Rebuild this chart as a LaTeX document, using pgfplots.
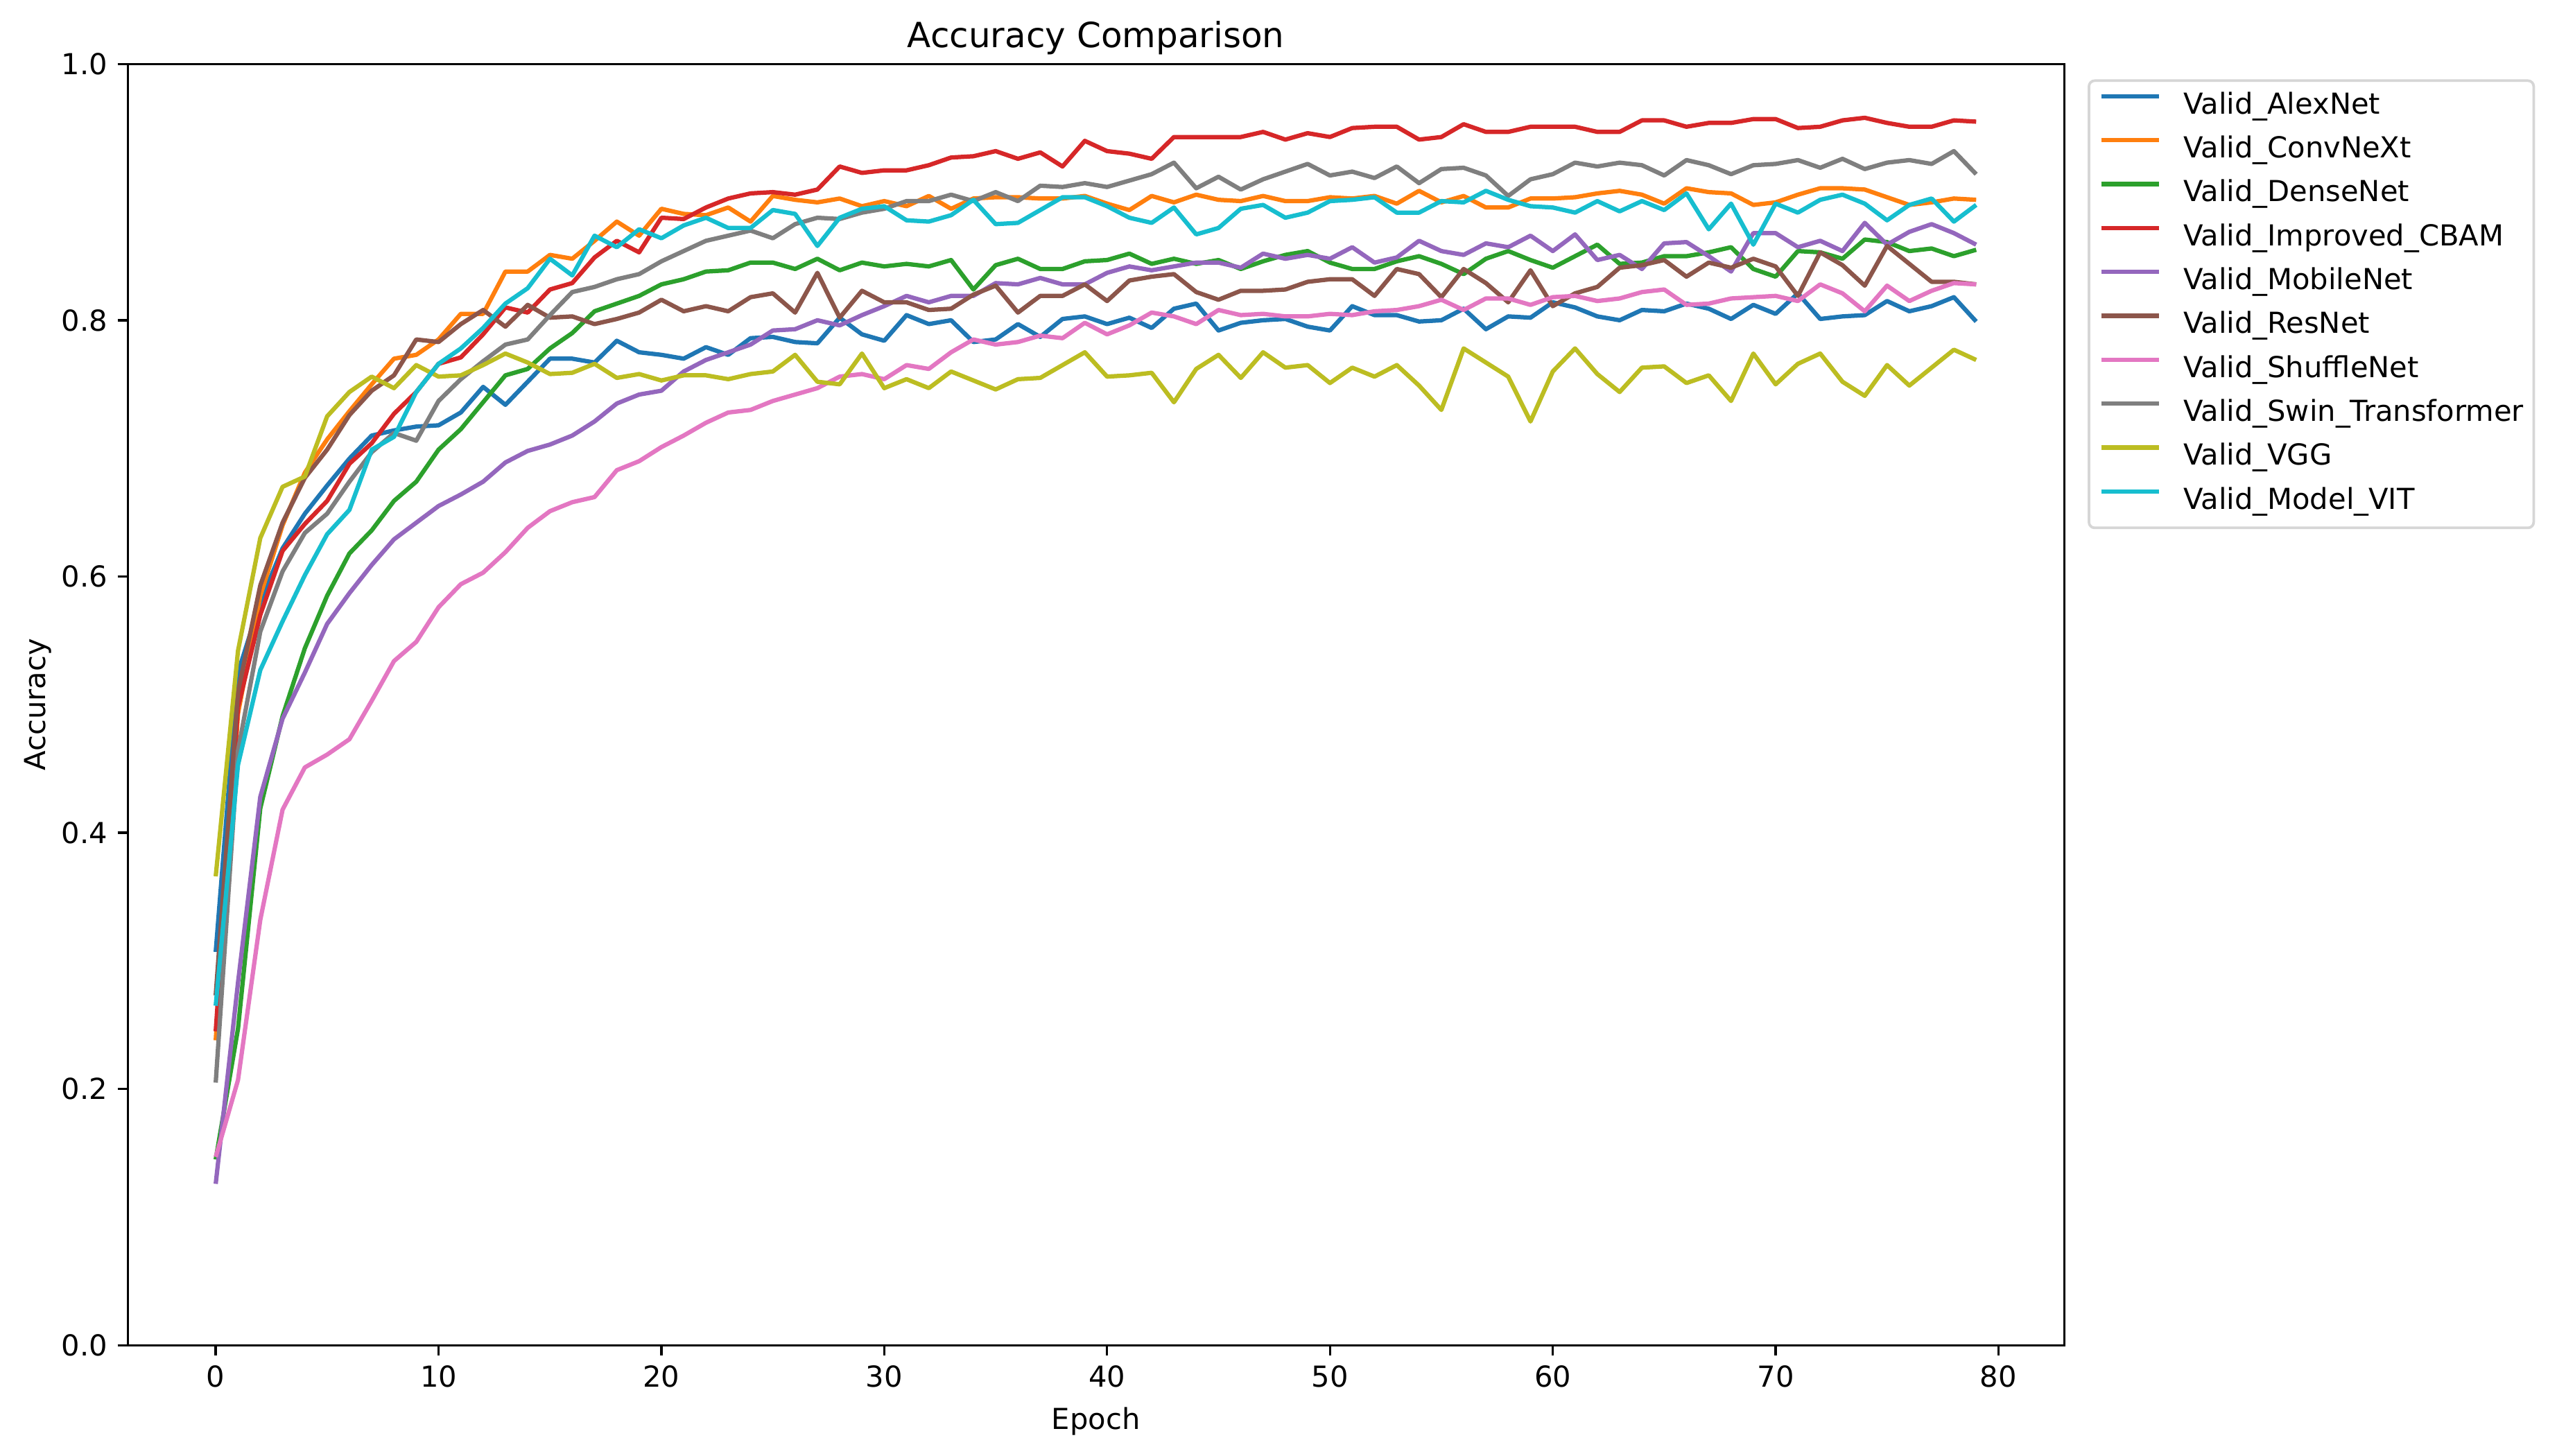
\documentclass[border=0pt]{standalone}
\usepackage{fontspec}
\setmainfont{DejaVu Sans}
\usepackage{pgfplots}
\usepackage{pgfplotstable}
\pgfplotsset{compat=1.18}
\definecolor{c0}{RGB}{31,119,180}
\definecolor{c1}{RGB}{255,127,14}
\definecolor{c2}{RGB}{44,160,44}
\definecolor{c3}{RGB}{214,39,40}
\definecolor{c4}{RGB}{148,103,189}
\definecolor{c5}{RGB}{140,86,75}
\definecolor{c6}{RGB}{227,119,194}
\definecolor{c7}{RGB}{127,127,127}
\definecolor{c8}{RGB}{188,189,34}
\definecolor{c9}{RGB}{23,190,207}
\definecolor{legframe}{RGB}{214,214,214}

\pgfplotstableread{
e A C D I M R S W V T
0 0.307 0.238 0.145 0.245 0.126 0.273 0.147 0.205 0.366 0.265
1 0.525 0.493 0.247 0.498 0.283 0.510 0.207 0.464 0.542 0.453
2 0.580 0.585 0.419 0.570 0.428 0.593 0.332 0.557 0.630 0.527
3 0.622 0.640 0.491 0.620 0.489 0.642 0.418 0.604 0.670 0.565
4 0.649 0.681 0.544 0.641 0.525 0.677 0.451 0.634 0.678 0.601
5 0.671 0.707 0.585 0.659 0.563 0.699 0.461 0.649 0.725 0.633
6 0.692 0.729 0.618 0.688 0.587 0.726 0.473 0.674 0.744 0.652
7 0.710 0.750 0.636 0.704 0.609 0.745 0.503 0.697 0.756 0.699
8 0.714 0.770 0.659 0.727 0.629 0.757 0.534 0.712 0.747 0.709
9 0.717 0.773 0.674 0.744 0.642 0.785 0.549 0.706 0.765 0.744
10 0.718 0.785 0.699 0.766 0.655 0.783 0.576 0.737 0.756 0.766
11 0.728 0.805 0.715 0.771 0.664 0.797 0.594 0.754 0.757 0.778
12 0.748 0.805 0.736 0.789 0.674 0.808 0.603 0.768 0.765 0.794
13 0.734 0.838 0.757 0.810 0.689 0.795 0.619 0.781 0.774 0.813
14 0.752 0.838 0.762 0.806 0.698 0.812 0.638 0.785 0.767 0.825
15 0.770 0.851 0.778 0.824 0.703 0.802 0.651 0.804 0.758 0.848
16 0.770 0.848 0.790 0.829 0.710 0.803 0.658 0.822 0.759 0.835
17 0.767 0.862 0.807 0.849 0.721 0.797 0.662 0.826 0.766 0.866
18 0.784 0.877 0.813 0.862 0.735 0.801 0.683 0.832 0.755 0.857
19 0.775 0.866 0.819 0.853 0.742 0.806 0.690 0.836 0.758 0.871
20 0.773 0.887 0.828 0.880 0.745 0.816 0.701 0.846 0.753 0.864
21 0.770 0.883 0.832 0.879 0.760 0.807 0.710 0.854 0.757 0.874
22 0.779 0.882 0.838 0.888 0.769 0.811 0.720 0.862 0.757 0.880
23 0.773 0.888 0.839 0.895 0.775 0.807 0.728 0.866 0.754 0.872
24 0.786 0.877 0.845 0.899 0.781 0.818 0.730 0.870 0.758 0.872
25 0.787 0.897 0.845 0.900 0.792 0.821 0.737 0.864 0.760 0.886
26 0.783 0.894 0.840 0.898 0.793 0.806 0.742 0.875 0.773 0.883
27 0.782 0.892 0.848 0.902 0.800 0.837 0.747 0.880 0.752 0.858
28 0.802 0.895 0.839 0.920 0.796 0.802 0.756 0.879 0.750 0.880
29 0.789 0.889 0.845 0.915 0.804 0.823 0.758 0.884 0.774 0.887
30 0.784 0.893 0.842 0.917 0.811 0.814 0.754 0.887 0.747 0.889
31 0.804 0.889 0.844 0.917 0.819 0.814 0.765 0.893 0.754 0.878
32 0.797 0.897 0.842 0.921 0.814 0.808 0.762 0.893 0.747 0.877
33 0.800 0.887 0.847 0.927 0.819 0.809 0.775 0.898 0.760 0.882
34 0.783 0.895 0.824 0.928 0.819 0.820 0.785 0.893 0.753 0.894
35 0.785 0.896 0.843 0.932 0.829 0.827 0.781 0.900 0.746 0.875
36 0.797 0.896 0.848 0.926 0.828 0.806 0.783 0.893 0.754 0.876
37 0.787 0.895 0.840 0.931 0.833 0.819 0.788 0.905 0.755 0.886
38 0.801 0.895 0.840 0.920 0.828 0.819 0.786 0.904 0.765 0.896
39 0.803 0.897 0.846 0.940 0.828 0.828 0.798 0.907 0.775 0.896
40 0.797 0.891 0.847 0.932 0.837 0.815 0.789 0.904 0.756 0.889
41 0.802 0.886 0.852 0.930 0.842 0.831 0.796 0.909 0.757 0.880
42 0.794 0.897 0.844 0.926 0.839 0.834 0.806 0.914 0.759 0.876
43 0.809 0.892 0.848 0.943 0.842 0.836 0.803 0.923 0.736 0.888
44 0.813 0.898 0.844 0.943 0.845 0.822 0.797 0.903 0.762 0.867
45 0.792 0.894 0.847 0.943 0.845 0.816 0.808 0.912 0.773 0.872
46 0.798 0.893 0.840 0.943 0.841 0.823 0.804 0.902 0.755 0.887
47 0.800 0.897 0.846 0.947 0.852 0.823 0.805 0.910 0.775 0.890
48 0.801 0.893 0.851 0.941 0.848 0.824 0.803 0.916 0.763 0.880
49 0.795 0.893 0.854 0.946 0.851 0.830 0.803 0.922 0.765 0.884
50 0.792 0.896 0.845 0.943 0.848 0.832 0.805 0.913 0.751 0.893
51 0.811 0.895 0.840 0.950 0.857 0.832 0.804 0.916 0.763 0.894
52 0.804 0.897 0.840 0.951 0.845 0.819 0.807 0.911 0.756 0.896
53 0.804 0.891 0.846 0.951 0.849 0.840 0.808 0.920 0.765 0.884
54 0.799 0.901 0.850 0.941 0.862 0.836 0.811 0.907 0.749 0.884
55 0.800 0.892 0.844 0.943 0.854 0.818 0.816 0.918 0.730 0.893
56 0.809 0.897 0.836 0.953 0.851 0.840 0.808 0.919 0.778 0.892
57 0.793 0.888 0.848 0.947 0.860 0.829 0.817 0.913 0.767 0.901
58 0.803 0.888 0.854 0.947 0.857 0.814 0.817 0.897 0.756 0.894
59 0.802 0.895 0.847 0.951 0.866 0.839 0.812 0.910 0.721 0.889
60 0.814 0.895 0.841 0.951 0.854 0.811 0.818 0.914 0.760 0.888
61 0.810 0.896 0.850 0.951 0.867 0.821 0.819 0.923 0.778 0.884
62 0.803 0.899 0.859 0.947 0.847 0.826 0.815 0.920 0.758 0.893
63 0.800 0.901 0.844 0.947 0.851 0.841 0.817 0.923 0.744 0.885
64 0.808 0.898 0.845 0.956 0.840 0.843 0.822 0.921 0.763 0.893
65 0.807 0.891 0.850 0.956 0.860 0.847 0.824 0.913 0.764 0.886
66 0.813 0.903 0.850 0.951 0.861 0.834 0.812 0.925 0.751 0.899
67 0.809 0.900 0.853 0.954 0.850 0.845 0.813 0.921 0.757 0.871
68 0.801 0.899 0.857 0.954 0.838 0.841 0.817 0.914 0.737 0.891
69 0.812 0.890 0.840 0.957 0.868 0.848 0.818 0.921 0.774 0.859
70 0.805 0.892 0.834 0.957 0.868 0.842 0.819 0.922 0.750 0.891
71 0.821 0.898 0.854 0.950 0.857 0.819 0.815 0.925 0.766 0.884
72 0.801 0.903 0.853 0.951 0.862 0.853 0.828 0.919 0.774 0.894
73 0.803 0.903 0.848 0.956 0.854 0.843 0.821 0.926 0.752 0.898
74 0.804 0.902 0.863 0.958 0.876 0.827 0.807 0.918 0.741 0.891
75 0.815 0.896 0.861 0.954 0.859 0.858 0.827 0.923 0.765 0.878
76 0.807 0.890 0.854 0.951 0.869 0.844 0.815 0.925 0.749 0.890
77 0.811 0.892 0.856 0.951 0.875 0.830 0.823 0.922 0.763 0.895
78 0.818 0.895 0.850 0.956 0.868 0.830 0.829 0.932 0.777 0.877
79 0.799 0.894 0.855 0.955 0.859 0.828 0.828 0.914 0.769 0.890
}\acc

\begin{document}
\begin{tikzpicture}
\useasboundingbox (-44.2pt,-38.3pt) rectangle (844.0pt,465.65pt);
\begin{axis}[
  at={(0pt,0pt)}, anchor=south west,
  scale only axis, width=670.3pt, height=443.5pt,
  xmin=-3.95, xmax=82.95, ymin=0, ymax=1,
  xtick={0,10,...,80},
  ytick={0,0.2,0.4,0.6,0.8,1.0},
  yticklabel style={/pgf/number format/.cd, fixed, fixed zerofill, precision=1},
  /pgf/number format/assume math mode=true,
  xtick pos=bottom, ytick pos=left,
  tick align=outside, major tick length=3.5pt,
  tick style={line width=0.8pt, black},
  axis line style={line width=0.8pt, black},
  ticklabel style={font=\fontsize{10}{12}\selectfont},
  title={Accuracy Comparison},
  every axis title shift=0pt,
  title style={at={([yshift=5.6pt]axis description cs:0.5,1)}, anchor=base, font=\fontsize{12}{14}\selectfont, inner sep=0pt},
  xlabel={Epoch},
  xlabel style={at={([yshift=-29.2pt]axis description cs:0.5,0)}, anchor=base, font=\fontsize{10}{12}\selectfont, inner sep=0pt},
  ylabel={Accuracy},
  ylabel style={at={([xshift=-28.6pt]axis description cs:0,0.5)}, anchor=base, font=\fontsize{10}{12}\selectfont, inner sep=0pt},
  every axis plot/.append style={line width=1.5pt, line join=round, no markers},
  legend image code/.code={\draw[#1, line width=1.5pt] (0pt,3.6pt) -- (20pt,3.6pt);},
  legend style={
    at={(1.0121,0.988)}, anchor=north west,
    draw=legframe, line width=0.9pt, rounded corners=2pt, fill=white,
    font=\fontsize{10}{12}\selectfont,
    inner xsep=3.5pt, inner ysep=4pt,
    row sep=5.2pt, column sep=0pt,
    nodes={inner sep=0pt, text height=7.5pt, text depth=2.5pt},
  },
  legend cell align=left,
  legend style={/tikz/every odd column/.append style={column sep=7.7pt}},
]
\addplot[c0] table[x=e, y=A] {\acc};
\addlegendentry{Valid\_AlexNet}
\addplot[c1] table[x=e, y=C] {\acc};
\addlegendentry{Valid\_ConvNeXt}
\addplot[c2] table[x=e, y=D] {\acc};
\addlegendentry{Valid\_DenseNet}
\addplot[c3] table[x=e, y=I] {\acc};
\addlegendentry{Valid\_Improved\_CBAM}
\addplot[c4] table[x=e, y=M] {\acc};
\addlegendentry{Valid\_MobileNet}
\addplot[c5] table[x=e, y=R] {\acc};
\addlegendentry{Valid\_ResNet}
\addplot[c6] table[x=e, y=S] {\acc};
\addlegendentry{Valid\_ShuffleNet}
\addplot[c7] table[x=e, y=W] {\acc};
\addlegendentry{Valid\_Swin\_Transformer}
\addplot[c8] table[x=e, y=V] {\acc};
\addlegendentry{Valid\_VGG}
\addplot[c9] table[x=e, y=T] {\acc};
\addlegendentry{Valid\_Model\_VIT}
\end{axis}
\end{tikzpicture}
\end{document}
